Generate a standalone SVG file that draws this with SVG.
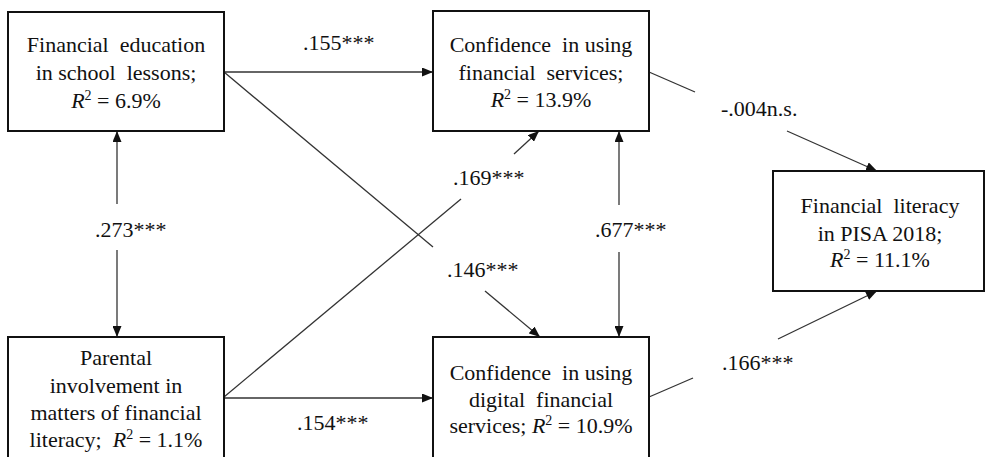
<svg xmlns="http://www.w3.org/2000/svg" width="985" height="457" viewBox="0 0 985 457">
<style>
.box{fill:#fff;stroke:#111;stroke-width:2}
.t{font-family:"Liberation Serif","Times New Roman",serif;font-size:22px;fill:#111;text-anchor:middle;white-space:pre}
.lbl{font-family:"Liberation Serif","Times New Roman",serif;font-size:22px;fill:#111}
.c{stroke:#333;stroke-width:1.3;fill:none}
.i{font-style:italic}
.sup{font-size:14px}
</style>
<defs>
<marker id="ah" markerUnits="userSpaceOnUse" markerWidth="11" markerHeight="9" refX="11" refY="4.5" orient="auto-start-reverse">
<path d="M0,0 L11,4.5 L0,9 z" fill="#111"/>
</marker>
</defs>
<rect width="985" height="457" fill="#fff"/>
<g id="connectors">
<line class="c" x1="224" y1="72" x2="433" y2="72" marker-end="url(#ah)"/>
<line class="c" x1="224" y1="72" x2="433" y2="247"/>
<line class="c" x1="485" y1="291" x2="540" y2="337" marker-end="url(#ah)"/>
<line class="c" x1="224" y1="397" x2="461" y2="199"/>
<line class="c" x1="514" y1="154" x2="539" y2="131" marker-end="url(#ah)"/>
<line class="c" x1="224" y1="398" x2="433" y2="398" marker-end="url(#ah)"/>
<line class="c" x1="117" y1="204" x2="117" y2="131" marker-end="url(#ah)"/>
<line class="c" x1="117" y1="250" x2="117" y2="337" marker-end="url(#ah)"/>
<line class="c" x1="619" y1="205" x2="619" y2="131" marker-end="url(#ah)"/>
<line class="c" x1="619" y1="252" x2="619" y2="337" marker-end="url(#ah)"/>
<line class="c" x1="649" y1="72" x2="695" y2="92"/>
<line class="c" x1="787" y1="131" x2="877" y2="171" marker-end="url(#ah)"/>
<line class="c" x1="649" y1="397" x2="693" y2="378"/>
<line class="c" x1="778" y1="339" x2="877" y2="291" marker-end="url(#ah)"/>
<text class="lbl" x="303" y="50">.155***</text>
<text class="lbl" x="95" y="237">.273***</text>
<text class="lbl" x="595" y="237">.677***</text>
<text class="lbl" x="453" y="185">.169***</text>
<text class="lbl" x="447" y="277">.146***</text>
<text class="lbl" x="297" y="430">.154***</text>
<text class="lbl" x="721" y="116">-.004n.s.</text>
<text class="lbl" x="722" y="370">.166***</text>
</g>
<g id="n1">
<rect class="box" x="8" y="12" width="216" height="119"/>
<text class="t" x="116" y="52" xml:space="preserve">Financial  education</text>
<text class="t" x="116" y="80" xml:space="preserve">in school  lessons;</text>
<text class="t" x="116" y="108"><tspan class="i">R</tspan><tspan class="sup" dy="-8">2</tspan><tspan dy="8"> = 6.9%</tspan></text>
</g>
<g id="n2">
<rect class="box" x="433" y="11" width="216" height="120"/>
<text class="t" x="541" y="52" xml:space="preserve">Confidence  in using</text>
<text class="t" x="541" y="80" xml:space="preserve">financial  services;</text>
<text class="t" x="541" y="107"><tspan class="i">R</tspan><tspan class="sup" dy="-8">2</tspan><tspan dy="8"> = 13.9%</tspan></text>
</g>
<g id="n3">
<rect class="box" x="8" y="337" width="216" height="126"/>
<text class="t" x="116" y="365">Parental</text>
<text class="t" x="116" y="393">involvement in</text>
<text class="t" x="116" y="420">matters of financial</text>
<text class="t" x="116" y="447" xml:space="preserve">literacy;  <tspan class="i">R</tspan><tspan class="sup" dy="-8">2</tspan><tspan dy="8"> = 1.1%</tspan></text>
</g>
<g id="n4">
<rect class="box" x="433" y="337" width="216" height="126"/>
<text class="t" x="541" y="380" xml:space="preserve">Confidence  in using</text>
<text class="t" x="541" y="407" xml:space="preserve">digital  financial</text>
<text class="t" x="541" y="433">services; <tspan class="i">R</tspan><tspan class="sup" dy="-8">2</tspan><tspan dy="8"> = 10.9%</tspan></text>
</g>
<g id="n5">
<rect class="box" x="773" y="171" width="211" height="120"/>
<text class="t" x="880" y="213" xml:space="preserve">Financial  literacy</text>
<text class="t" x="880" y="241">in PISA 2018;</text>
<text class="t" x="880" y="267"><tspan class="i">R</tspan><tspan class="sup" dy="-8">2</tspan><tspan dy="8"> = 11.1%</tspan></text>
</g>
</svg>
